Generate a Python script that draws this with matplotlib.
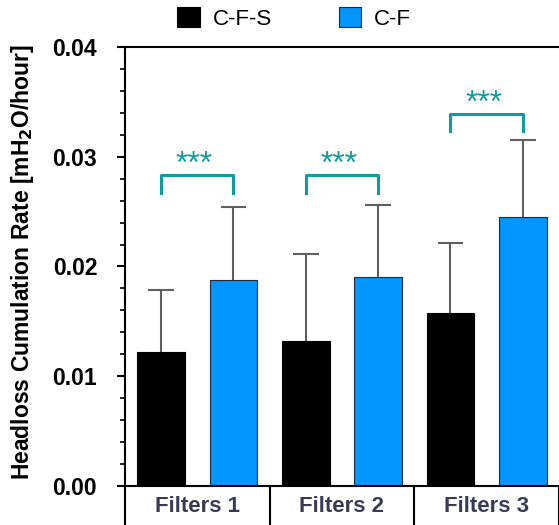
import numpy as np
import matplotlib.pyplot as plt

plt.rcParams['font.family'] = ['Liberation Sans', 'DejaVu Sans']

groups = ['Filters 1', 'Filters 2', 'Filters 3']
series = ['C-F-S', 'C-F']
cfs_mean = [0.0122, 0.0132, 0.0158]
cfs_err = [0.0057, 0.0079, 0.0063]
cf_mean = [0.0188, 0.0190, 0.0245]
cf_err = [0.0066, 0.0066, 0.0070]
sig = ['***', '***', '***']
bracket_y = [0.0283, 0.0283, 0.0339]

colors = ['black', '#0095FF']
teal = '#119C9C'

x = np.arange(len(groups))
w = 0.33
off = 0.25
cap = 0.088

fig = plt.figure(figsize=(5.59, 5.25), dpi=100)
ax = fig.add_axes([0.2236, 0.0743, 0.7764, 0.8362])

ax.bar(x - off, cfs_mean, w, color=colors[0], edgecolor='black', linewidth=0.8,
       label=series[0], zorder=2)
ax.bar(x + off, cf_mean, w, color=colors[1], edgecolor='#1a2a40', linewidth=0.8,
       label=series[1], zorder=2)

# upper-only error bars
for xs, m, e in [(x - off, cfs_mean, cfs_err), (x + off, cf_mean, cf_err)]:
    top = np.array(m) + np.array(e)
    ax.vlines(xs, m, top, color='#606060', lw=1.5, zorder=1)
    ax.hlines(top, xs - cap, xs + cap, color='#606060', lw=1.5, zorder=1)

# significance brackets
for i in range(len(groups)):
    y = bracket_y[i]
    ax.plot([x[i] - off, x[i] - off, x[i] + off, x[i] + off],
            [y - 0.0016, y, y, y - 0.0016], color=teal, lw=2.2, zorder=3)
    ax.text(x[i] - 0.02, y + 0.0002, sig[i], color=teal, ha='center', va='baseline',
            fontsize=23)

ax.set_ylim(0, 0.04)
ax.set_xlim(-0.495, 2.447)
ax.set_yticks([0, 0.01, 0.02, 0.03, 0.04])
ax.set_yticklabels(['0.00', '0.01', '0.02', '0.03', '0.04'], fontsize=16.5, fontweight='bold')
ax.set_yticks(np.arange(0, 0.0401, 0.002), minor=True)
ax.tick_params(axis='y', which='major', direction='out', length=6, width=1.5, pad=14)
ax.tick_params(axis='y', which='minor', direction='out', length=3.5, width=1.2)

# category separators as long x ticks, labels on minor ticks
ax.set_xticks([-0.5, 0.5, 1.5, 2.5])
ax.set_xticklabels([])
ax.set_xticks(x, minor=True)
ax.set_xticklabels(groups, minor=True, fontsize=16, fontweight='bold', color='#3A3A55')
ax.tick_params(axis='x', which='major', direction='out', length=30, width=1.5)
ax.tick_params(axis='x', which='minor', length=0, pad=7)

for s in ['left', 'bottom', 'top']:
    ax.spines[s].set_linewidth(1.5)
ax.spines['right'].set_visible(False)

ax.set_ylabel('Headloss Cumulation Rate [mH$_\\mathbf{2}$O/hour]', fontsize=16.5,
              fontweight='bold')
ax.yaxis.set_label_coords(-0.205, 0.51)

fig.legend(loc='center', bbox_to_anchor=(0.5265, 0.965), ncol=2, frameon=False,
           fontsize=16, handlelength=1.0, handleheight=1.0, columnspacing=3.0,
           handletextpad=0.6)

fig.savefig('out.png', dpi=100)
